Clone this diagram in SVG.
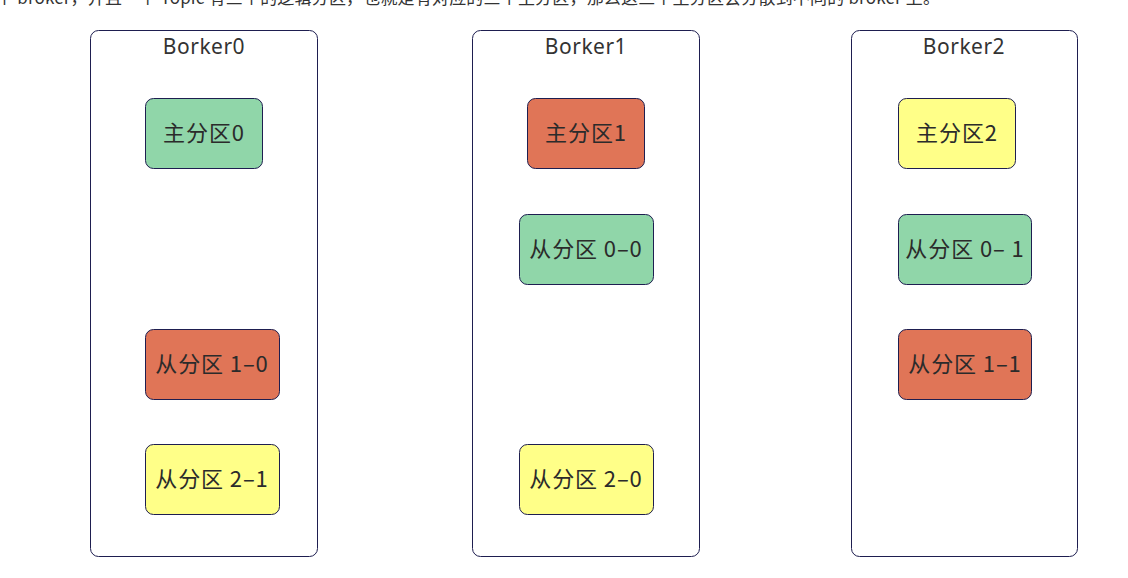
<svg xmlns="http://www.w3.org/2000/svg" width="1128" height="578" viewBox="0 0 1128 578">
<style>
.bg{fill:#ffffff}
.broker{fill:#ffffff;stroke:#1e1e50;stroke-width:1}
.part{stroke:#1e1e50;stroke-width:1}
.green{fill:#90d6a9}
.red{fill:#e07557}
.yellow{fill:#ffff88}
.t{font-family:"Noto Sans CJK SC","Noto Sans",sans-serif;font-size:22px;letter-spacing:0.9px;fill:#2b2b2b;text-anchor:middle}
.title{font-family:"Noto Sans","Noto Sans CJK SC",sans-serif;font-size:21px;letter-spacing:0.5px;fill:#333333;text-anchor:middle}
.top{font-family:"Noto Sans CJK SC",sans-serif;font-size:17px;fill:#333333}
</style>
<rect class="bg" x="0" y="0" width="1128" height="578"/>
<text class="top" x="-4" y="4" textLength="944" lengthAdjust="spacing">个 broker，并且一个 Topic 有三个的逻辑分区，也就是有对应的三个主分区，那么这三个主分区会分散到不同的 broker 上。</text>
<g id="broker0">
<rect class="broker" x="90.5" y="30.5" width="227" height="526" rx="8"/>
<text class="title" x="204" y="54">Borker0</text>
</g>
<g id="broker1">
<rect class="broker" x="472.5" y="30.5" width="227" height="526" rx="8"/>
<text class="title" x="586" y="54">Borker1</text>
</g>
<g id="broker2">
<rect class="broker" x="851.5" y="30.5" width="226" height="526" rx="8"/>
<text class="title" x="964" y="54">Borker2</text>
</g>
<g id="p0">
<rect class="part green" x="145.5" y="98.5" width="117" height="70" rx="8"/>
<text class="t" x="204" y="141">主分区0</text>
</g>
<g id="r10">
<rect class="part red" x="145.5" y="329.5" width="134" height="70" rx="8"/>
<text class="t" x="212" y="372">从分区 1–0</text>
</g>
<g id="r21">
<rect class="part yellow" x="145.5" y="444.5" width="134" height="70" rx="8"/>
<text class="t" x="212" y="487">从分区 2–1</text>
</g>
<g id="p1">
<rect class="part red" x="527.5" y="98.5" width="117" height="70" rx="8"/>
<text class="t" x="586" y="141">主分区1</text>
</g>
<g id="r00">
<rect class="part green" x="519.5" y="214.5" width="134" height="70" rx="8"/>
<text class="t" x="586" y="257">从分区 0–0</text>
</g>
<g id="r20">
<rect class="part yellow" x="519.5" y="444.5" width="134" height="70" rx="8"/>
<text class="t" x="586" y="487">从分区 2–0</text>
</g>
<g id="p2">
<rect class="part yellow" x="898.5" y="98.5" width="117" height="70" rx="8"/>
<text class="t" x="957" y="141">主分区2</text>
</g>
<g id="r01">
<rect class="part green" x="898.5" y="214.5" width="133" height="70" rx="8"/>
<text class="t" x="965" y="257">从分区 0– 1</text>
</g>
<g id="r11">
<rect class="part red" x="898.5" y="329.5" width="133" height="70" rx="8"/>
<text class="t" x="965" y="372">从分区 1–1</text>
</g>
<g id="connectors"></g>
</svg>
